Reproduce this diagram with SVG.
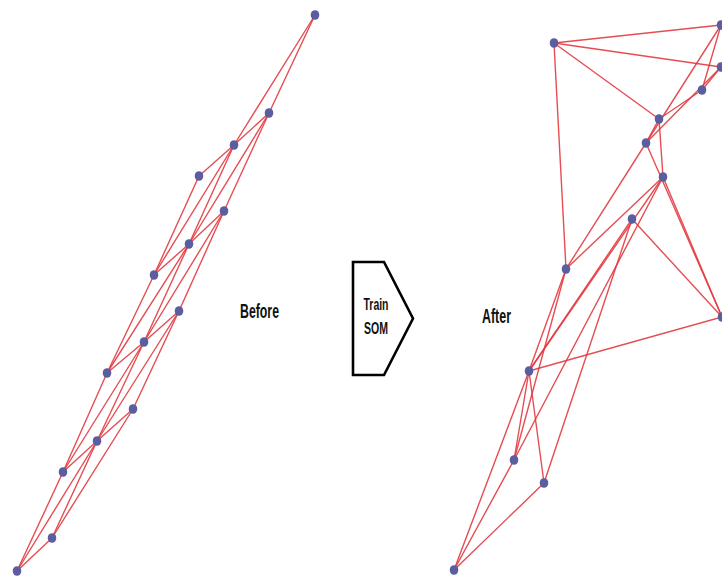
<svg xmlns="http://www.w3.org/2000/svg" width="722" height="581" viewBox="0 0 722 581">
  <defs>
    <style>
      .edge { stroke: #e23a40; stroke-width: 1.4; stroke-opacity: 0.9; fill: none; stroke-linecap: round; }
      .node { fill: #5a5e9e; }
      .label { font-family: "Liberation Sans", Arial, sans-serif; font-weight: bold; fill: #111; }
      .som { fill: #ffffff; stroke: #000; stroke-width: 2.6; stroke-linejoin: miter; }
    </style>
    <ellipse id="dot" class="node" cx="0" cy="0" rx="4.3" ry="4.8"/>
  </defs>
  <rect width="722" height="581" fill="#ffffff"/>

  <!-- map before training: connections -->
  <g id="before-connectors">
    <line class="edge" x1="315" y1="15" x2="269" y2="113"/>
    <line class="edge" x1="315" y1="15" x2="234" y2="145"/>
    <line class="edge" x1="269" y1="113" x2="234" y2="145"/>
    <line class="edge" x1="234" y1="145" x2="199" y2="176"/>
    <line class="edge" x1="269" y1="113" x2="224" y2="211"/>
    <line class="edge" x1="269" y1="113" x2="189" y2="244"/>
    <line class="edge" x1="234" y1="145" x2="189" y2="244"/>
    <line class="edge" x1="234" y1="145" x2="154" y2="275"/>
    <line class="edge" x1="199" y1="176" x2="154" y2="275"/>
    <line class="edge" x1="224" y1="211" x2="189" y2="244"/>
    <line class="edge" x1="189" y1="244" x2="154" y2="275"/>
    <line class="edge" x1="224" y1="211" x2="179" y2="311"/>
    <line class="edge" x1="224" y1="211" x2="144" y2="342"/>
    <line class="edge" x1="189" y1="244" x2="144" y2="342"/>
    <line class="edge" x1="189" y1="244" x2="107" y2="373"/>
    <line class="edge" x1="154" y1="275" x2="107" y2="373"/>
    <line class="edge" x1="179" y1="311" x2="144" y2="342"/>
    <line class="edge" x1="144" y1="342" x2="107" y2="373"/>
    <line class="edge" x1="179" y1="311" x2="133" y2="409"/>
    <line class="edge" x1="179" y1="311" x2="97" y2="441"/>
    <line class="edge" x1="144" y1="342" x2="97" y2="441"/>
    <line class="edge" x1="144" y1="342" x2="63" y2="472"/>
    <line class="edge" x1="107" y1="373" x2="63" y2="472"/>
    <line class="edge" x1="133" y1="409" x2="97" y2="441"/>
    <line class="edge" x1="97" y1="441" x2="63" y2="472"/>
    <line class="edge" x1="133" y1="409" x2="52" y2="538"/>
    <line class="edge" x1="97" y1="441" x2="52" y2="538"/>
    <line class="edge" x1="97" y1="441" x2="17" y2="571"/>
    <line class="edge" x1="63" y1="472" x2="17" y2="571"/>
    <line class="edge" x1="52" y1="538" x2="17" y2="571"/>
  </g>

  <!-- map before training: units -->
  <g id="b-a0"><use href="#dot" x="315" y="15"/></g>
  <g id="b-a1"><use href="#dot" x="269" y="113"/></g>
  <g id="b-b1"><use href="#dot" x="234" y="145"/></g>
  <g id="b-c1"><use href="#dot" x="199" y="176"/></g>
  <g id="b-a2"><use href="#dot" x="224" y="211"/></g>
  <g id="b-b2"><use href="#dot" x="189" y="244"/></g>
  <g id="b-c2"><use href="#dot" x="154" y="275"/></g>
  <g id="b-a3"><use href="#dot" x="179" y="311"/></g>
  <g id="b-b3"><use href="#dot" x="144" y="342"/></g>
  <g id="b-c3"><use href="#dot" x="107" y="373"/></g>
  <g id="b-a4"><use href="#dot" x="133" y="409"/></g>
  <g id="b-b4"><use href="#dot" x="97" y="441"/></g>
  <g id="b-c4"><use href="#dot" x="63" y="472"/></g>
  <g id="b-b5"><use href="#dot" x="52" y="538"/></g>
  <g id="b-c5"><use href="#dot" x="17" y="571"/></g>

  <!-- map after training: connections -->
  <g id="after-connectors">
    <line class="edge" x1="554" y1="43" x2="721" y2="25"/>
    <line class="edge" x1="554" y1="43" x2="721" y2="67"/>
    <line class="edge" x1="554" y1="43" x2="659" y2="119"/>
    <line class="edge" x1="554" y1="43" x2="566" y2="269"/>
    <line class="edge" x1="721" y1="25" x2="702" y2="90"/>
    <line class="edge" x1="721" y1="25" x2="646" y2="143"/>
    <line class="edge" x1="721" y1="67" x2="702" y2="90"/>
    <line class="edge" x1="721" y1="67" x2="646" y2="143"/>
    <line class="edge" x1="702" y1="90" x2="659" y2="119"/>
    <line class="edge" x1="659" y1="119" x2="646" y2="143"/>
    <line class="edge" x1="659" y1="119" x2="663" y2="177"/>
    <line class="edge" x1="646" y1="143" x2="566" y2="269"/>
    <line class="edge" x1="646" y1="143" x2="722" y2="317"/>
    <line class="edge" x1="663" y1="177" x2="722" y2="317"/>
    <line class="edge" x1="663" y1="177" x2="566" y2="269"/>
    <line class="edge" x1="663" y1="177" x2="529" y2="371"/>
    <line class="edge" x1="632" y1="219" x2="529" y2="371"/>
    <line class="edge" x1="663" y1="177" x2="514" y2="460"/>
    <line class="edge" x1="632" y1="219" x2="722" y2="317"/>
    <line class="edge" x1="632" y1="219" x2="544" y2="483"/>
    <line class="edge" x1="566" y1="269" x2="529" y2="371"/>
    <line class="edge" x1="566" y1="269" x2="514" y2="460"/>
    <line class="edge" x1="529" y1="371" x2="722" y2="317"/>
    <line class="edge" x1="529" y1="371" x2="514" y2="460"/>
    <line class="edge" x1="529" y1="371" x2="544" y2="483"/>
    <line class="edge" x1="529" y1="371" x2="454" y2="570"/>
    <line class="edge" x1="514" y1="460" x2="454" y2="570"/>
    <line class="edge" x1="544" y1="483" x2="454" y2="570"/>
  </g>

  <!-- map after training: units -->
  <g id="a-01"><use href="#dot" x="554" y="43"/></g>
  <g id="a-02"><use href="#dot" x="721" y="25"/></g>
  <g id="a-03"><use href="#dot" x="721" y="67"/></g>
  <g id="a-04"><use href="#dot" x="702" y="90"/></g>
  <g id="a-05"><use href="#dot" x="659" y="119"/></g>
  <g id="a-06"><use href="#dot" x="646" y="143"/></g>
  <g id="a-07"><use href="#dot" x="663" y="177"/></g>
  <g id="a-08"><use href="#dot" x="632" y="219"/></g>
  <g id="a-09"><use href="#dot" x="566" y="269"/></g>
  <g id="a-10"><use href="#dot" x="722" y="317"/></g>
  <g id="a-11"><use href="#dot" x="529" y="371"/></g>
  <g id="a-12"><use href="#dot" x="514" y="460"/></g>
  <g id="a-13"><use href="#dot" x="544" y="483"/></g>
  <g id="a-14"><use href="#dot" x="454" y="570"/></g>

  <!-- captions -->
  <g id="label-before">
    <text class="label" x="240" y="318" font-size="20" textLength="39" lengthAdjust="spacingAndGlyphs">Before</text>
  </g>
  <g id="label-after">
    <text class="label" x="482" y="323" font-size="20" textLength="29" lengthAdjust="spacingAndGlyphs">After</text>
  </g>

  <!-- training step -->
  <g id="train-som">
    <polygon class="som" points="353,262 384,262 413,318.5 384,375 353,375"/>
    <text class="label" x="363.5" y="310" font-size="17" textLength="25" lengthAdjust="spacingAndGlyphs">Train</text>
    <text class="label" x="364" y="334" font-size="17" textLength="24" lengthAdjust="spacingAndGlyphs">SOM</text>
  </g>
</svg>
